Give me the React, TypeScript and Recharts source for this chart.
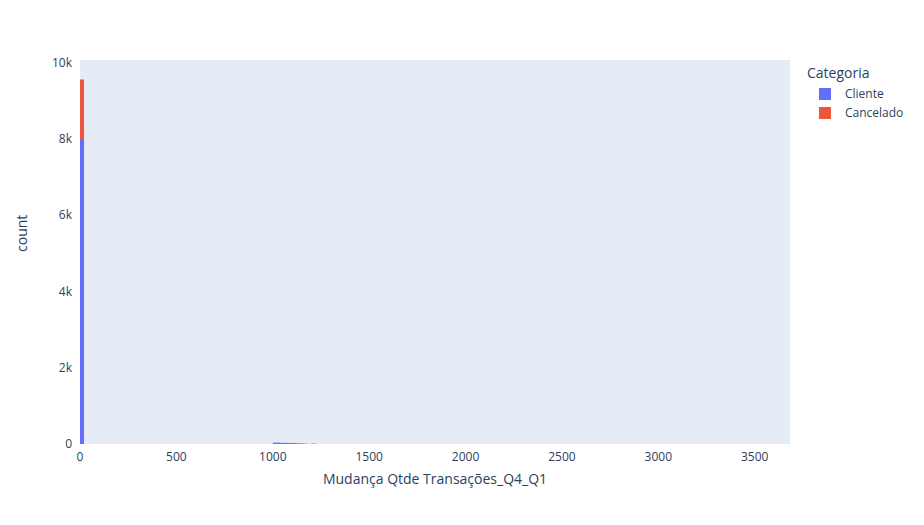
import React from 'react';
import { ComposedChart, Bar, XAxis, YAxis, CartesianGrid } from 'recharts';

// bin centers (bin width 20)
const binCenters = [10, 1010, 1030, 1050, 1070, 1090, 1110, 1130, 1150, 1170, 1210];
const clienteCounts = [7990, 35, 35, 30, 30, 25, 22, 20, 15, 10, 10];
const canceladoCounts = [1560, 0, 0, 0, 0, 0, 8, 0, 0, 0, 0];
const xTicks = [0, 500, 1000, 1500, 2000, 2500, 3000, 3500];
const yTicks = [0, 2000, 4000, 6000, 8000, 10000];

const data = binCenters.map((x, i) => ({ x, cliente: clienteCounts[i], cancelado: canceladoCounts[i] }));

const font = '"Open Sans", sans-serif';
const tick = { fontSize: 12, fill: '#2a3f5f', fontFamily: font };

export default function App() {
  return (
    <div style={{ position: 'absolute', left: 0, top: 0, width: 924, height: 525, background: '#fff', fontFamily: font }}>
      <ComposedChart width={924} height={525} data={data} barCategoryGap={0} barGap={0}
        margin={{ top: 60, right: 134, left: 0, bottom: 0 }}>
        <rect x={80} y={60} width={710} height={384} fill="#E5ECF6" />
        <CartesianGrid stroke="#fff" vertical={false} />
        <XAxis dataKey="x" type="number" domain={[0, 3683]} ticks={xTicks} height={81}
          tick={tick} tickLine={false} axisLine={false} tickMargin={2}
          label={{ value: 'Mudança Qtde Transações_Q4_Q1', position: 'insideTop', offset: 30, fontSize: 14, fill: '#2a3f5f', fontFamily: font }} />
        <YAxis type="number" domain={[0, 10060]} ticks={yTicks} width={80}
          tickFormatter={(v) => (v === 0 ? '0' : `${v / 1000}k`)}
          tick={tick} tickLine={false} axisLine={false} tickMargin={2}
          label={{ value: 'count', angle: -90, position: 'insideLeft', offset: 22, fontSize: 14, fill: '#2a3f5f', fontFamily: font }} />
        <Bar dataKey="cliente" stackId="a" fill="#636EFA" isAnimationActive={false} />
        <Bar dataKey="cancelado" stackId="a" fill="#EF553B" isAnimationActive={false} />
      </ComposedChart>
      <div style={{ position: 'absolute', left: 807, top: 63, color: '#2a3f5f', fontSize: 14 }}>Categoria</div>
      {[['Cliente', '#636EFA'], ['Cancelado', '#EF553B']].map(([name, c], i) => (
        <div key={name} style={{ position: 'absolute', left: 819, top: 85 + i * 19, display: 'flex', alignItems: 'center', fontSize: 12, color: '#2a3f5f' }}>
          <span style={{ width: 12, height: 12, background: c, display: 'inline-block', marginRight: 14 }} />
          {name}
        </div>
      ))}
    </div>
  );
}
